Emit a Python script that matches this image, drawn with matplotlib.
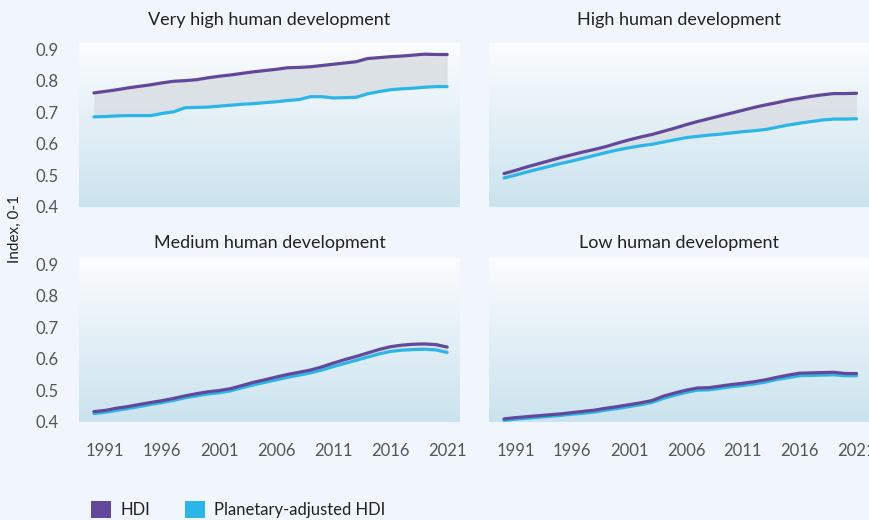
import numpy as np
import matplotlib
matplotlib.use("Agg")
import matplotlib.pyplot as plt
from matplotlib.colors import LinearSegmentedColormap
from matplotlib.patches import Patch

plt.rcParams['font.family'] = ['Lato', 'DejaVu Sans']

years = list(range(1990, 2022))

titles = ["Very high human development", "High human development",
          "Medium human development", "Low human development"]

hdi_very_high = [0.762, 0.767, 0.772, 0.778, 0.783, 0.788, 0.794, 0.799, 0.801, 0.804,
                 0.810, 0.815, 0.819, 0.824, 0.829, 0.833, 0.837, 0.842, 0.843, 0.845,
                 0.849, 0.853, 0.857, 0.861, 0.871, 0.874, 0.877, 0.879, 0.882, 0.885,
                 0.884, 0.884]
phdi_very_high = [0.686, 0.687, 0.689, 0.690, 0.690, 0.690, 0.697, 0.702, 0.715, 0.716,
                  0.717, 0.720, 0.723, 0.726, 0.728, 0.731, 0.734, 0.738, 0.741, 0.750,
                  0.750, 0.746, 0.747, 0.748, 0.759, 0.766, 0.772, 0.775, 0.777, 0.780,
                  0.782, 0.782]

hdi_high = [0.506, 0.516, 0.527, 0.537, 0.547, 0.557, 0.566, 0.575, 0.583, 0.592,
            0.603, 0.613, 0.622, 0.630, 0.640, 0.650, 0.661, 0.671, 0.680, 0.689,
            0.698, 0.707, 0.716, 0.724, 0.731, 0.739, 0.745, 0.751, 0.756, 0.760,
            0.760, 0.761]
phdi_high = [0.492, 0.501, 0.511, 0.520, 0.529, 0.538, 0.546, 0.555, 0.564, 0.573,
             0.581, 0.588, 0.594, 0.599, 0.606, 0.613, 0.620, 0.624, 0.628, 0.631,
             0.635, 0.639, 0.642, 0.646, 0.653, 0.660, 0.666, 0.671, 0.676, 0.679,
             0.679, 0.680]

hdi_medium = [0.432, 0.436, 0.443, 0.448, 0.455, 0.461, 0.467, 0.474, 0.482, 0.489,
              0.495, 0.499, 0.505, 0.515, 0.525, 0.533, 0.542, 0.550, 0.557, 0.564,
              0.574, 0.586, 0.597, 0.607, 0.618, 0.629, 0.638, 0.643, 0.646, 0.647,
              0.645, 0.637]
phdi_medium = [0.426, 0.430, 0.436, 0.442, 0.448, 0.455, 0.461, 0.468, 0.476, 0.482,
               0.488, 0.492, 0.498, 0.508, 0.517, 0.525, 0.533, 0.541, 0.548, 0.555,
               0.564, 0.575, 0.585, 0.595, 0.605, 0.615, 0.623, 0.627, 0.629, 0.630,
               0.628, 0.620]

hdi_low = [0.409, 0.413, 0.416, 0.419, 0.422, 0.425, 0.429, 0.433, 0.437, 0.443,
           0.448, 0.454, 0.460, 0.467, 0.481, 0.491, 0.500, 0.507, 0.508, 0.513,
           0.518, 0.522, 0.527, 0.533, 0.541, 0.548, 0.554, 0.555, 0.556, 0.557,
           0.553, 0.553]
phdi_low = [0.404, 0.408, 0.411, 0.414, 0.417, 0.420, 0.424, 0.427, 0.431, 0.437,
            0.442, 0.448, 0.454, 0.461, 0.474, 0.484, 0.493, 0.500, 0.501, 0.506,
            0.511, 0.515, 0.520, 0.526, 0.534, 0.540, 0.546, 0.547, 0.548, 0.549,
            0.546, 0.546]

hdi_series = [hdi_very_high, hdi_high, hdi_medium, hdi_low]
phdi_series = [phdi_very_high, phdi_high, phdi_medium, phdi_low]

x_ticks = [1991, 1996, 2001, 2006, 2011, 2016, 2021]
y_ticks = [0.4, 0.5, 0.6, 0.7, 0.8, 0.9]

hdi_color = "#63479b"
phdi_color = "#2cb6e8"
fill_color = "#d9dee3"

fig = plt.figure(figsize=(8.69, 5.2), dpi=100)
fig.patch.set_facecolor("#f0f6fb")

bg = LinearSegmentedColormap.from_list("bg", ["#fbfcfe", "#cbe3ee"])

# axes boxes in figure fractions: left, bottom, width, height
boxes = [(0.091, 0.602, 0.438, 0.315), (0.563, 0.602, 0.437, 0.315),
         (0.091, 0.189, 0.438, 0.315), (0.563, 0.189, 0.437, 0.315)]

for i, box in enumerate(boxes):
    ax = fig.add_axes(box)
    ax.set_facecolor("none")
    ax.imshow(np.linspace(0, 1, 256).reshape(-1, 1), cmap=bg, aspect="auto",
              extent=[0, 1, 0, 1], transform=ax.transAxes, zorder=0)
    hdi = np.array(hdi_series[i])
    phdi = np.array(phdi_series[i])
    ax.fill_between(years, phdi, hdi, color=fill_color, alpha=0.85, lw=0, zorder=1)
    ax.plot(years, phdi, color=phdi_color, lw=2.3, solid_capstyle="round", zorder=2)
    ax.plot(years, hdi, color=hdi_color, lw=2.3, solid_capstyle="round", zorder=3)
    ax.set_xlim(1988.7, 2022.1)
    ax.set_ylim(0.4, 0.92)
    ax.set_xticks(x_ticks)
    ax.set_yticks(y_ticks)
    ax.set_yticklabels([f"{v:.1f}" for v in y_ticks])
    ax.tick_params(length=0, labelsize=12, colors="#555555", pad=15)
    ax.tick_params(axis="x", pad=15)
    for s in ax.spines.values():
        s.set_visible(False)
    if i < 2:
        ax.tick_params(labelbottom=False)
    if i % 2 == 1:
        ax.tick_params(labelleft=False)
    ax.set_title(titles[i], fontsize=13, color="#222222", pad=13 if i < 2 else 7)

fig.text(0.017, 0.56, "Index, 0-1", rotation=90, ha="center", va="center",
         fontsize=11, color="#222222")

handles = [Patch(facecolor=hdi_color), Patch(facecolor=phdi_color)]
fig.legend(handles, ["HDI", "Planetary-adjusted HDI"], loc="lower left",
           bbox_to_anchor=(0.095, -0.012), ncol=2, frameon=False, fontsize=12,
           borderpad=0, handlelength=1.2, handleheight=1.2, handletextpad=0.55,
           columnspacing=2.1, labelcolor="#222222")

fig.savefig("out.png", dpi=100, facecolor=fig.get_facecolor())
